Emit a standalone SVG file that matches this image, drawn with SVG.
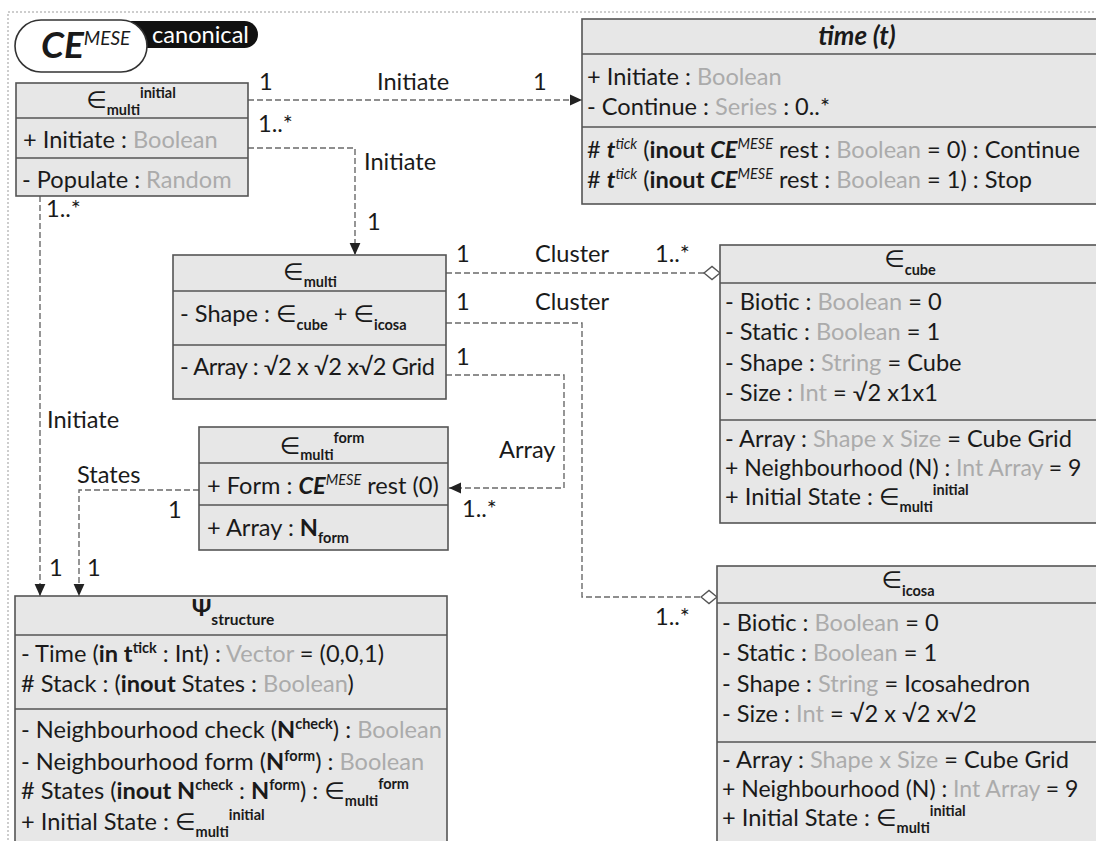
<svg xmlns="http://www.w3.org/2000/svg" width="1096" height="841" viewBox="0 0 1096 841">
<defs>
<style>
text{font-family:Lato,"DejaVu Sans",sans-serif;font-size:23.6px;fill:#1a1a1a}
.g{fill:#ababab}
.b{font-weight:bold}
.i{font-style:italic}
.s{font-size:14.5px;font-weight:bold}
.si{font-size:14.5px;font-style:italic}
.box{fill:#e7e7e7;stroke:#555;stroke-width:1.6}
.div{stroke:#555;stroke-width:1.6}
.con{fill:none;stroke:#6a6a6a;stroke-width:1.4;stroke-dasharray:6 3}
</style>
<marker id="arr" markerUnits="userSpaceOnUse" markerWidth="12" markerHeight="12" viewBox="0 -5 10 10" refX="10" refY="0" orient="auto">
<path d="M0,-4.5 L10,0 L0,4.5 Z" fill="#222"/>
</marker>
<marker id="dia" markerUnits="userSpaceOnUse" markerWidth="18" markerHeight="16" viewBox="-1 -8 18 16" refX="16" refY="0" orient="auto">
<path d="M0,0 L8,-6.5 L16,0 L8,6.5 Z" fill="#fff" stroke="#555" stroke-width="1.4"/>
</marker>
</defs>
<rect x="0" y="0" width="1096" height="841" fill="#fff"/>
<rect x="8" y="12" width="1200" height="900" fill="none" stroke="#bdbdbd" stroke-width="1.5" stroke-dasharray="2 2"/>

<g id="badge">
<rect x="100" y="21" width="158" height="27" rx="13.5" fill="#111"/>
<rect x="15" y="20" width="132" height="52" rx="26" fill="#fff" stroke="#333" stroke-width="1.6"/>
<text x="41" y="58" style="font-size:37px;font-weight:bold;font-style:italic">CE<tspan dy="-13" style="font-size:19px;font-weight:normal">MESE</tspan></text>
<text x="152" y="43" style="fill:#fff">canonical</text>
</g>

<g id="connectors">
<path class="con" d="M248,100 H582" marker-end="url(#arr)"/>
<path class="con" d="M248,148 H355 V255" marker-end="url(#arr)"/>
<path class="con" d="M40,196 V596" marker-end="url(#arr)"/>
<path class="con" d="M199,490 H79 V596" marker-end="url(#arr)"/>
<path class="con" d="M446,375 H564 V488 H449" marker-end="url(#arr)"/>
<path class="con" d="M446,273 H720" marker-end="url(#dia)"/>
<path class="con" d="M446,323 H582 V597 H717" marker-end="url(#dia)"/>
<text x="259" y="90">1</text>
<text x="377" y="90">Initiate</text>
<text x="533" y="90">1</text>
<text x="258" y="132">1..*</text>
<text x="364" y="170">Initiate</text>
<text x="367" y="230">1</text>
<text x="46" y="217">1..*</text>
<text x="47" y="428">Initiate</text>
<text x="49" y="576">1</text>
<text x="87" y="576">1</text>
<text x="77" y="483">States</text>
<text x="168" y="518">1</text>
<text x="456" y="262">1</text>
<text x="535" y="262">Cluster</text>
<text x="655" y="262">1..*</text>
<text x="456" y="310">1</text>
<text x="535" y="310">Cluster</text>
<text x="456" y="365">1</text>
<text x="499" y="458">Array</text>
<text x="462" y="517">1..*</text>
<text x="655" y="625">1..*</text>
</g>

<g id="multi-initial">
<rect class="box" x="16" y="83" width="232" height="113"/>
<line class="div" x1="16" y1="118" x2="248" y2="118"/>
<line class="div" x1="16" y1="158" x2="248" y2="158"/>
<text x="131" y="108" text-anchor="middle">∈<tspan class="s" dy="7">multi</tspan><tspan class="s" dy="-17">initial</tspan></text>
<text x="23" y="148">+ Initiate : <tspan class="g">Boolean</tspan></text>
<text x="22" y="188">- Populate : <tspan class="g">Random</tspan></text>
</g>

<g id="time">
<rect class="box" x="582" y="19" width="560" height="185"/>
<line class="div" x1="582" y1="54" x2="1142" y2="54"/>
<line class="div" x1="582" y1="127" x2="1142" y2="127"/>
<text x="857" y="45" text-anchor="middle" class="b i" style="font-size:26px">time (t)</text>
<text x="587" y="85">+ Initiate : <tspan class="g">Boolean</tspan></text>
<text x="587" y="115">- Continue : <tspan class="g">Series</tspan> : 0..*</text>
<text x="587" y="158"># <tspan class="b i">t</tspan><tspan class="si" dy="-9">tick</tspan><tspan dy="9"> (</tspan><tspan class="b">inout </tspan><tspan class="b i">CE</tspan><tspan class="si" dy="-9">MESE</tspan><tspan dy="9"> rest : </tspan><tspan class="g">Boolean</tspan> = 0) : Continue</text>
<text x="587" y="188"># <tspan class="b i">t</tspan><tspan class="si" dy="-9">tick</tspan><tspan dy="9"> (</tspan><tspan class="b">inout </tspan><tspan class="b i">CE</tspan><tspan class="si" dy="-9">MESE</tspan><tspan dy="9"> rest : </tspan><tspan class="g">Boolean</tspan> = 1) : Stop</text>
</g>

<g id="multi">
<rect class="box" x="173" y="255" width="273" height="144"/>
<line class="div" x1="173" y1="291" x2="446" y2="291"/>
<line class="div" x1="173" y1="345" x2="446" y2="345"/>
<text x="310" y="280" text-anchor="middle">∈<tspan class="s" dy="7">multi</tspan></text>
<text x="180" y="322">- Shape : ∈<tspan class="s" dy="8">cube</tspan><tspan dy="-8"> + ∈</tspan><tspan class="s" dy="8">icosa</tspan></text>
<text x="180" y="375" textLength="255" lengthAdjust="spacing">- Array : √2 x √2 x√2 Grid</text>
</g>

<g id="multi-form">
<rect class="box" x="199" y="427" width="249" height="123"/>
<line class="div" x1="199" y1="463" x2="448" y2="463"/>
<line class="div" x1="199" y1="505" x2="448" y2="505"/>
<text x="322" y="454" text-anchor="middle">∈<tspan class="s" dy="6">multi</tspan><tspan class="s" dy="-17">form</tspan></text>
<text x="207" y="494">+ Form : <tspan class="b i">CE</tspan><tspan class="si" dy="-9">MESE</tspan><tspan dy="9"> rest (0)</tspan></text>
<text x="207" y="536">+ Array : <tspan class="b">N</tspan><tspan class="s" dy="7">form</tspan></text>
</g>

<g id="cube">
<rect class="box" x="720" y="245" width="400" height="278"/>
<line class="div" x1="720" y1="283" x2="1120" y2="283"/>
<line class="div" x1="720" y1="420" x2="1120" y2="420"/>
<text x="910" y="267" text-anchor="middle">∈<tspan class="s" dy="8">cube</tspan></text>
<text x="725" y="310">- Biotic : <tspan class="g">Boolean</tspan> = 0</text>
<text x="725" y="340">- Static : <tspan class="g">Boolean</tspan> = 1</text>
<text x="725" y="371">- Shape : <tspan class="g">String</tspan> = Cube</text>
<text x="725" y="401">- Size : <tspan class="g">Int</tspan> = √2 x1x1</text>
<text x="725" y="447">- Array : <tspan class="g">Shape x Size</tspan> = Cube Grid</text>
<text x="725" y="476" style="font-size:23px">+ Neighbourhood (N) : <tspan class="g">Int Array</tspan> = 9</text>
<text x="725" y="505">+ Initial State : ∈<tspan class="s" dy="7">multi</tspan><tspan class="s" dy="-17">initial</tspan></text>
</g>

<g id="icosa">
<rect class="box" x="717" y="566" width="400" height="300"/>
<line class="div" x1="717" y1="603" x2="1117" y2="603"/>
<line class="div" x1="717" y1="742" x2="1117" y2="742"/>
<text x="908" y="588" text-anchor="middle">∈<tspan class="s" dy="8">icosa</tspan></text>
<text x="722" y="631">- Biotic : <tspan class="g">Boolean</tspan> = 0</text>
<text x="722" y="661">- Static : <tspan class="g">Boolean</tspan> = 1</text>
<text x="722" y="692">- Shape : <tspan class="g">String</tspan> = Icosahedron</text>
<text x="722" y="722">- Size : <tspan class="g">Int</tspan> = √2 x √2 x√2</text>
<text x="722" y="768">- Array : <tspan class="g">Shape x Size</tspan> = Cube Grid</text>
<text x="722" y="797" style="font-size:23px">+ Neighbourhood (N) : <tspan class="g">Int Array</tspan> = 9</text>
<text x="722" y="826">+ Initial State : ∈<tspan class="s" dy="7">multi</tspan><tspan class="s" dy="-17">initial</tspan></text>
</g>

<g id="psi">
<rect class="box" x="15" y="596" width="432" height="260"/>
<line class="div" x1="15" y1="635" x2="447" y2="635"/>
<line class="div" x1="15" y1="709" x2="447" y2="709"/>
<text x="233" y="616" text-anchor="middle" class="b">Ψ<tspan style="font-size:15.5px" dy="9">structure</tspan></text>
<text x="21" y="662">- Time (<tspan class="b">in t</tspan><tspan class="s" dy="-9">tick</tspan><tspan dy="9"> : Int) : </tspan><tspan class="g">Vector</tspan> = (0,0,1)</text>
<text x="21" y="692"># Stack : (<tspan class="b">inout</tspan> States : <tspan class="g">Boolean</tspan>)</text>
<text x="21" y="738">- Neighbourhood check (<tspan class="b">N</tspan><tspan class="s" dy="-9">check</tspan><tspan dy="9">) : </tspan><tspan class="g">Boolean</tspan></text>
<text x="21" y="770">- Neighbourhood form (<tspan class="b">N</tspan><tspan class="s" dy="-9">form</tspan><tspan dy="9">) : </tspan><tspan class="g">Boolean</tspan></text>
<text x="21" y="799"># States (<tspan class="b">inout N</tspan><tspan class="s" dy="-9">check</tspan><tspan dy="9"> : </tspan><tspan class="b">N</tspan><tspan class="s" dy="-9">form</tspan><tspan dy="9">) : ∈</tspan><tspan class="s" dy="7">multi</tspan><tspan class="s" dy="-17">form</tspan></text>
<text x="21" y="830">+ Initial State : ∈<tspan class="s" dy="7">multi</tspan><tspan class="s" dy="-17">initial</tspan></text>
</g>
</svg>
